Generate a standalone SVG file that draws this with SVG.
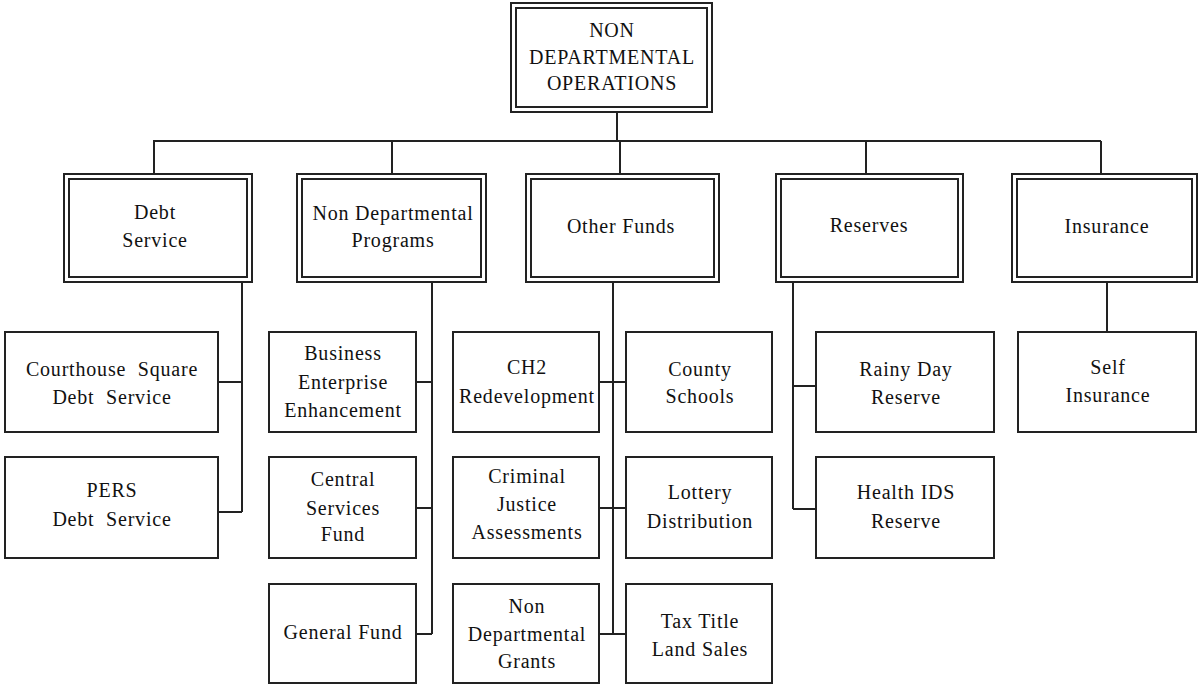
<svg xmlns="http://www.w3.org/2000/svg" width="1199" height="688" viewBox="0 0 1199 688">
<style>
.bg{fill:#fff}
.box{fill:#fff;stroke:#222;stroke-width:2}
.in{fill:none;stroke:#222;stroke-width:2}
.c{fill:none;stroke:#222;stroke-width:2}
text{font-family:"Liberation Serif","Times New Roman",serif;font-size:20px;letter-spacing:0.8px;fill:#111;text-anchor:middle}
</style>
<rect class="bg" x="0" y="0" width="1199" height="688"/>
<g id="connectors">
<path class="c" d="M617 113V141M153 141H1101M154 141V173M392 141V173M620 141V173M866 141V173M1101 141V173"/>
<path class="c" d="M242 283V512M219 382H242M219 512H242"/>
<path class="c" d="M432 283V634M417 382H432M417 508H432M417 634H432"/>
<path class="c" d="M613 283V634M600 382H625M600 508H625M600 634H625"/>
<path class="c" d="M793 283V509M793 386H815M793 509H815"/>
<path class="c" d="M1107 283V331"/>
</g>
<g id="root">
<rect class="box" x="511" y="3" width="201" height="109"/>
<rect class="in" x="516" y="8" width="191" height="99"/>
<text x="612" y="37">NON</text>
<text x="612" y="64">DEPARTMENTAL</text>
<text x="612" y="90">OPERATIONS</text>
</g>
<g id="debt-service">
<rect class="box" x="64" y="174" width="188" height="108"/>
<rect class="in" x="69" y="179" width="178" height="98"/>
<text x="155" y="219">Debt</text>
<text x="155" y="247">Service</text>
</g>
<g id="non-dept-programs">
<rect class="box" x="297" y="174" width="189" height="108"/>
<rect class="in" x="302" y="179" width="179" height="98"/>
<text x="393" y="220">Non Departmental</text>
<text x="393" y="247">Programs</text>
</g>
<g id="other-funds">
<rect class="box" x="526" y="174" width="193" height="108"/>
<rect class="in" x="531" y="179" width="183" height="98"/>
<text x="621" y="233">Other Funds</text>
</g>
<g id="reserves">
<rect class="box" x="776" y="174" width="187" height="108"/>
<rect class="in" x="781" y="179" width="177" height="98"/>
<text x="869" y="232">Reserves</text>
</g>
<g id="insurance">
<rect class="box" x="1012" y="174" width="185" height="108"/>
<rect class="in" x="1017" y="179" width="175" height="98"/>
<text x="1107" y="233">Insurance</text>
</g>
<g id="courthouse">
<rect class="box" x="5" y="332" width="213" height="100"/>
<text x="112" y="376" xml:space="preserve">Courthouse  Square</text>
<text x="112" y="404" xml:space="preserve">Debt  Service</text>
</g>
<g id="pers">
<rect class="box" x="5" y="457" width="213" height="101"/>
<text x="112" y="497">PERS</text>
<text x="112" y="526" xml:space="preserve">Debt  Service</text>
</g>
<g id="business">
<rect class="box" x="269" y="332" width="147" height="100"/>
<text x="343" y="360">Business</text>
<text x="343" y="389">Enterprise</text>
<text x="343" y="417">Enhancement</text>
</g>
<g id="central">
<rect class="box" x="269" y="457" width="147" height="101"/>
<text x="343" y="486">Central</text>
<text x="343" y="515">Services</text>
<text x="343" y="541">Fund</text>
</g>
<g id="general">
<rect class="box" x="269" y="584" width="147" height="99"/>
<text x="343" y="639">General Fund</text>
</g>
<g id="ch2">
<rect class="box" x="453" y="332" width="146" height="100"/>
<text x="527" y="374">CH2</text>
<text x="527" y="403">Redevelopment</text>
</g>
<g id="county">
<rect class="box" x="626" y="332" width="146" height="100"/>
<text x="700" y="376">County</text>
<text x="700" y="403">Schools</text>
</g>
<g id="criminal">
<rect class="box" x="453" y="457" width="146" height="101"/>
<text x="527" y="483">Criminal</text>
<text x="527" y="511">Justice</text>
<text x="527" y="539">Assessments</text>
</g>
<g id="lottery">
<rect class="box" x="626" y="457" width="146" height="101"/>
<text x="700" y="499">Lottery</text>
<text x="700" y="528">Distribution</text>
</g>
<g id="ndgrants">
<rect class="box" x="453" y="584" width="146" height="99"/>
<text x="527" y="613">Non</text>
<text x="527" y="641">Departmental</text>
<text x="527" y="668">Grants</text>
</g>
<g id="taxtitle">
<rect class="box" x="626" y="584" width="146" height="99"/>
<text x="700" y="628">Tax Title</text>
<text x="700" y="656">Land Sales</text>
</g>
<g id="rainy">
<rect class="box" x="816" y="332" width="178" height="100"/>
<text x="906" y="376">Rainy Day</text>
<text x="906" y="404">Reserve</text>
</g>
<g id="health">
<rect class="box" x="816" y="457" width="178" height="101"/>
<text x="906" y="499">Health IDS</text>
<text x="906" y="528">Reserve</text>
</g>
<g id="self-insurance">
<rect class="box" x="1018" y="332" width="178" height="100"/>
<text x="1108" y="374">Self</text>
<text x="1108" y="402">Insurance</text>
</g>
</svg>
